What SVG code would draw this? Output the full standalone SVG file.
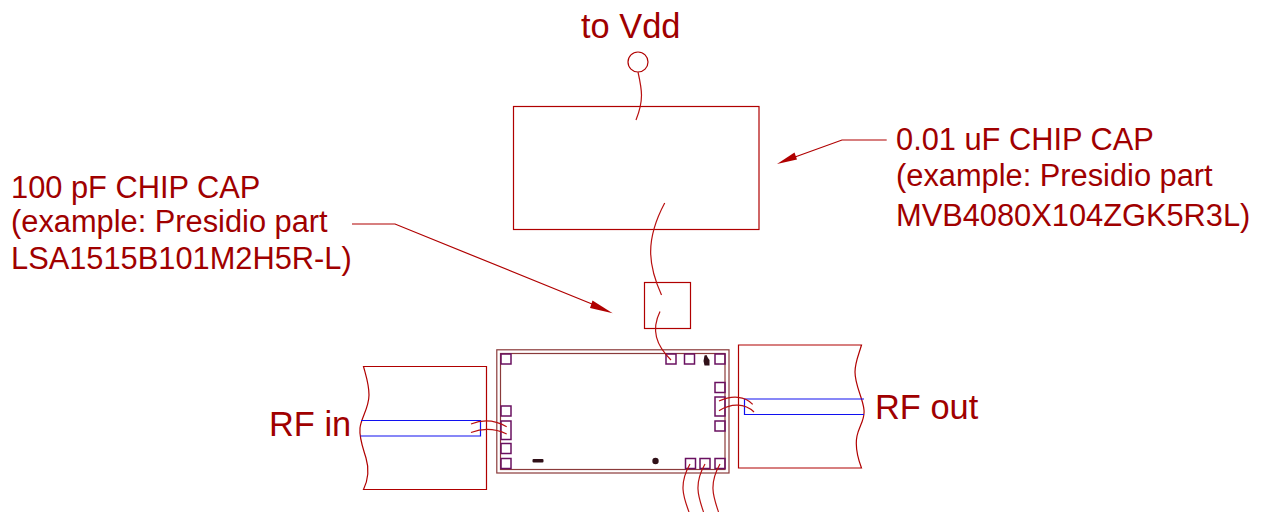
<svg xmlns="http://www.w3.org/2000/svg" width="1261" height="512" viewBox="0 0 1261 512">
<style>
text{font-family:"Liberation Sans",Arial,sans-serif;fill:#a00000}
.note{font-size:30.800px}
.big{font-size:34.400px}
.r{fill:none;stroke:#b00000;stroke-width:1.200}
.w{fill:none;stroke:#b81010;stroke-width:1.200}
.b{fill:none;stroke:#1010f0;stroke-width:1.200}
.p{fill:none;stroke:#6a1060;stroke-width:1.500}
.o{fill:none;stroke:#8a3a3a;stroke-width:1.200}
.d{fill:#301018;stroke:none}
.a{fill:#b00000;stroke:none}
</style>
<rect width="1261" height="512" fill="#fff"/>
<g id="vdd-terminal"><circle class="r" cx="638" cy="62" r="10"/><text class="big" x="581" y="38">to Vdd</text></g>
<g id="cap-001uf"><rect class="r" x="513.500" y="106.500" width="245.500" height="123"/></g>
<g id="cap-100pf"><rect class="r" x="644.500" y="282.500" width="46" height="46"/></g>
<g id="label-001uf"><text class="note" x="896" y="150">0.01 uF CHIP CAP</text><text class="note" x="896" y="186">(example: Presidio part</text><text class="note" x="896" y="226">MVB4080X104ZGK5R3L)</text></g>
<g id="label-100pf"><text class="note" x="11" y="198">100 pF CHIP CAP</text><text class="note" x="11" y="232">(example: Presidio part</text><text class="note" x="11" y="269">LSA1515B101M2H5R-L)</text></g>
<g id="board-in"><path class="r" d="M363.500 366.500H486.500V489.500H363.500C369 478 369 468 366 458C363 448 359 438 360 428C361 418 369 408 369 395C369 384 366 376 363.500 366.500Z"/><path class="b" d="M361 420.500H480.500V436H360.500"/><text class="big" x="269" y="436">RF in</text></g>
<g id="board-out"><path class="r" d="M861.500 345H738.500V468H861.500C857 456 855 446 857 436C859 426 865 420 864 410C863 398 855 386 855 372C855 362 859 354 861.500 345Z"/><path class="b" d="M864 399H744.500V414.500H864"/><text class="big" x="875" y="418.500">RF out</text></g>
<g id="chip">
<rect class="o" x="496.800" y="349.800" width="232.200" height="123.200"/>
<rect class="o" x="500.500" y="353.500" width="224.500" height="116"/>
<g id="pads">
<rect class="p" x="501" y="354" width="10" height="10"/>
<rect class="p" x="666" y="354" width="10" height="10"/>
<rect class="p" x="684.500" y="354" width="10" height="10"/>
<rect class="p" x="715" y="354" width="10" height="10"/>
<rect class="p" x="715" y="382.500" width="10" height="10"/>
<rect class="p" x="715" y="397" width="10" height="19"/>
<rect class="p" x="715" y="421" width="10" height="10"/>
<rect class="p" x="685.500" y="458.500" width="10" height="10"/>
<rect class="p" x="700" y="458.500" width="10" height="10"/>
<rect class="p" x="715" y="458.500" width="10" height="10"/>
<rect class="p" x="501" y="458.500" width="10" height="10"/>
<rect class="p" x="501" y="443.500" width="10" height="10"/>
<rect class="p" x="501" y="421" width="10" height="18.500"/>
<rect class="p" x="501" y="406" width="10" height="10"/>
</g>
<rect class="d" x="532.500" y="459" width="11" height="3.500" rx="1"/>
<circle class="d" cx="655.500" cy="461" r="3.200"/>
<path class="d" d="M703.500 361L704.500 355.500L706.500 355L708 358L709.500 360V365.500H704.500Z"/>
</g>
<g id="connectors">
<path class="w" d="M638 72C642 90 644 100 636 120"/>
<path class="w" d="M664.700 203C645 240 648 265 661.500 295"/>
<path class="w" d="M660 311.500C651 330 656 345 671 360"/>
<path class="w" d="M690 464C678 485 684 498 689 512"/>
<path class="w" d="M705 464C693 485 699 498 703.500 512"/>
<path class="w" d="M720 464C708 485 714 498 718.500 512"/>
<path class="w" d="M471 424C482 419.500 495 420 506.700 426.700"/>
<path class="w" d="M471 432.500C483 428 495 428.500 506.700 434"/>
<path class="w" d="M719 401C732 395 745 396 752.700 404.300"/>
<path class="w" d="M719 410.700C731 403 745 403 754 412"/>
<path class="r" d="M352 224H395L592 304"/>
<path class="a" d="M612.700 313.300L592.500 300.500L590 308Z"/>
<path class="r" d="M886.700 140H842L795 157"/>
<path class="a" d="M777 164L794.500 152.500L797 159.500Z"/>
</g>
</svg>
